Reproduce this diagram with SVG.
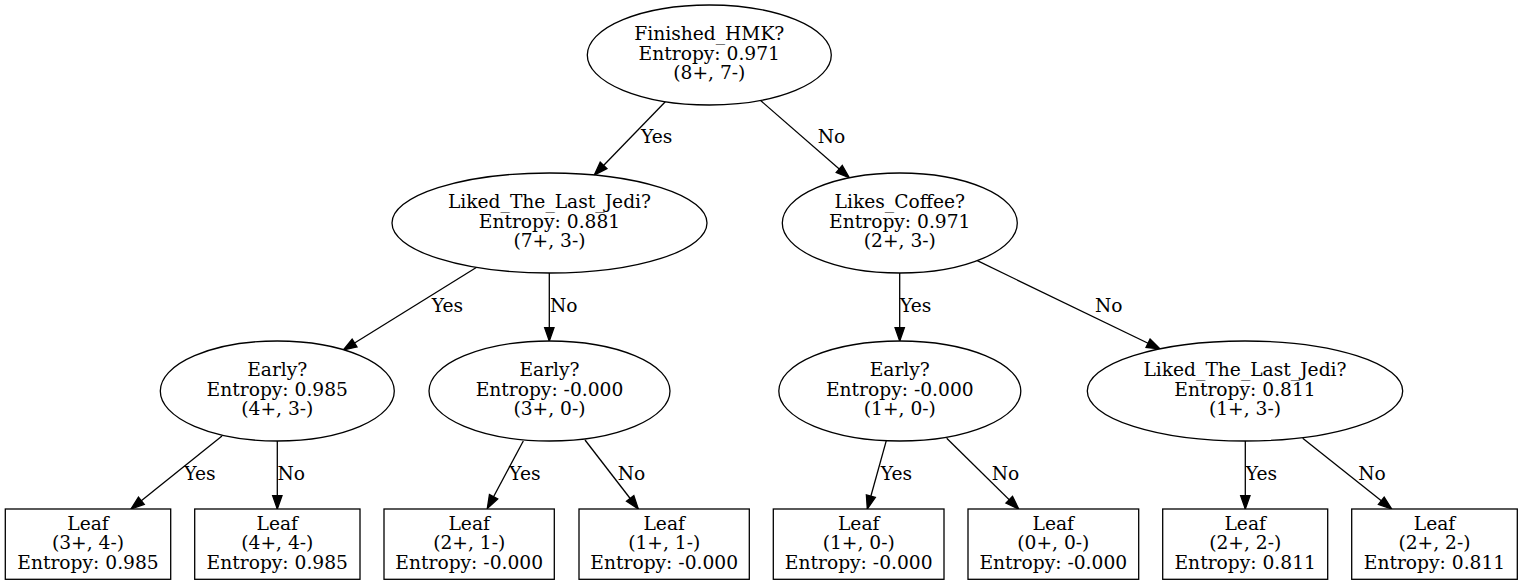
<svg xmlns="http://www.w3.org/2000/svg" width="1523" height="585" viewBox="0 0 1523 585">
<defs>
<style>
.n ellipse,.n rect{fill:#fff;stroke:#000;stroke-width:1.3}
text{font-family:"DejaVu Serif","Liberation Serif",serif;font-size:18.67px;fill:#000}
.n text{text-anchor:middle}
.e line{stroke:#000;stroke-width:1.3;marker-end:url(#ah)}
</style>
<marker id="ah" markerUnits="userSpaceOnUse" markerWidth="16" markerHeight="12" refX="13.3" refY="4.67" orient="auto" overflow="visible">
<path d="M0,0 L13.3,4.67 L0,9.33 z" fill="#000" stroke="#000" stroke-width="1.3"/>
</marker>
</defs>
<rect width="1523" height="585" fill="#fff"/>
<g id="edges" class="e">
<line x1="665.3" y1="101.7" x2="594.3" y2="175"/>
<text x="641" y="143.3">Yes</text>
<line x1="760" y1="100" x2="849.3" y2="177.7"/>
<text x="817.7" y="143.3">No</text>
<line x1="476.7" y1="267.3" x2="343.3" y2="350"/>
<text x="431.7" y="311.7">Yes</text>
<line x1="549.3" y1="273" x2="549.3" y2="341"/>
<text x="550" y="311.7">No</text>
<line x1="899.7" y1="273" x2="899.7" y2="341"/>
<text x="900" y="311.7">Yes</text>
<line x1="977.3" y1="260.7" x2="1160" y2="349"/>
<text x="1095" y="311.7">No</text>
<line x1="222" y1="436" x2="131" y2="509"/>
<text x="184.3" y="480">Yes</text>
<line x1="277.3" y1="441" x2="277.3" y2="509"/>
<text x="277.5" y="480">No</text>
<line x1="523.3" y1="441" x2="487.3" y2="508.5"/>
<text x="509.3" y="480">Yes</text>
<line x1="585" y1="440" x2="638.3" y2="509"/>
<text x="617.7" y="480">No</text>
<line x1="886.3" y1="440.7" x2="867.3" y2="509"/>
<text x="880.7" y="480">Yes</text>
<line x1="946.7" y1="438.3" x2="1018.7" y2="509"/>
<text x="991.7" y="480">No</text>
<line x1="1245.3" y1="441" x2="1245.3" y2="509"/>
<text x="1245.7" y="480">Yes</text>
<line x1="1302.7" y1="438.3" x2="1391.7" y2="509"/>
<text x="1358.3" y="480">No</text>
</g>
<g id="root" class="n">
<ellipse cx="709.3" cy="55" rx="122" ry="50"/>
<text x="709.3" y="40.3">Finished_HMK?</text>
<text x="709.3" y="59.8">Entropy: 0.971</text>
<text x="709.3" y="79.3">(8+, 7-)</text>
</g>
<g id="ltlj1" class="n">
<ellipse cx="549.5" cy="223" rx="157.5" ry="50"/>
<text x="549.5" y="208.3">Liked_The_Last_Jedi?</text>
<text x="549.5" y="227.8">Entropy: 0.881</text>
<text x="549.5" y="247.3">(7+, 3-)</text>
</g>
<g id="coffee" class="n">
<ellipse cx="899.8" cy="223" rx="117.5" ry="50"/>
<text x="899.8" y="208.3">Likes_Coffee?</text>
<text x="899.8" y="227.8">Entropy: 0.971</text>
<text x="899.8" y="247.3">(2+, 3-)</text>
</g>
<g id="early1" class="n">
<ellipse cx="277.3" cy="391" rx="117" ry="50"/>
<text x="277.3" y="376.3">Early?</text>
<text x="277.3" y="395.8">Entropy: 0.985</text>
<text x="277.3" y="415.3">(4+, 3-)</text>
</g>
<g id="early2" class="n">
<ellipse cx="549.5" cy="391" rx="120.5" ry="50"/>
<text x="549.5" y="376.3">Early?</text>
<text x="549.5" y="395.8">Entropy: -0.000</text>
<text x="549.5" y="415.3">(3+, 0-)</text>
</g>
<g id="early3" class="n">
<ellipse cx="899.8" cy="391" rx="121" ry="50"/>
<text x="899.8" y="376.3">Early?</text>
<text x="899.8" y="395.8">Entropy: -0.000</text>
<text x="899.8" y="415.3">(1+, 0-)</text>
</g>
<g id="ltlj2" class="n">
<ellipse cx="1245" cy="391" rx="157.7" ry="50"/>
<text x="1245" y="376.3">Liked_The_Last_Jedi?</text>
<text x="1245" y="395.8">Entropy: 0.811</text>
<text x="1245" y="415.3">(1+, 3-)</text>
</g>
<g id="leaf1" class="n">
<rect x="5.3" y="509" width="165.4" height="70.3"/>
<text x="88" y="529.5">Leaf</text>
<text x="88" y="549.2">(3+, 4-)</text>
<text x="88" y="568.9">Entropy: 0.985</text>
</g>
<g id="leaf2" class="n">
<rect x="194.7" y="509" width="165.3" height="70.3"/>
<text x="277.3" y="529.5">Leaf</text>
<text x="277.3" y="549.2">(4+, 4-)</text>
<text x="277.3" y="568.9">Entropy: 0.985</text>
</g>
<g id="leaf3" class="n">
<rect x="384" y="509" width="170.3" height="70.3"/>
<text x="469.2" y="529.5">Leaf</text>
<text x="469.2" y="549.2">(2+, 1-)</text>
<text x="469.2" y="568.9">Entropy: -0.000</text>
</g>
<g id="leaf4" class="n">
<rect x="579" y="509" width="170.3" height="70.3"/>
<text x="664.2" y="529.5">Leaf</text>
<text x="664.2" y="549.2">(1+, 1-)</text>
<text x="664.2" y="568.9">Entropy: -0.000</text>
</g>
<g id="leaf5" class="n">
<rect x="773.3" y="509" width="170.7" height="70.3"/>
<text x="858.7" y="529.5">Leaf</text>
<text x="858.7" y="549.2">(1+, 0-)</text>
<text x="858.7" y="568.9">Entropy: -0.000</text>
</g>
<g id="leaf6" class="n">
<rect x="968" y="509" width="170.7" height="70.3"/>
<text x="1053.3" y="529.5">Leaf</text>
<text x="1053.3" y="549.2">(0+, 0-)</text>
<text x="1053.3" y="568.9">Entropy: -0.000</text>
</g>
<g id="leaf7" class="n">
<rect x="1162.7" y="509" width="165" height="70.3"/>
<text x="1245.2" y="529.5">Leaf</text>
<text x="1245.2" y="549.2">(2+, 2-)</text>
<text x="1245.2" y="568.9">Entropy: 0.811</text>
</g>
<g id="leaf8" class="n">
<rect x="1351.7" y="509" width="165.6" height="70.3"/>
<text x="1434.5" y="529.5">Leaf</text>
<text x="1434.5" y="549.2">(2+, 2-)</text>
<text x="1434.5" y="568.9">Entropy: 0.811</text>
</g>
</svg>
